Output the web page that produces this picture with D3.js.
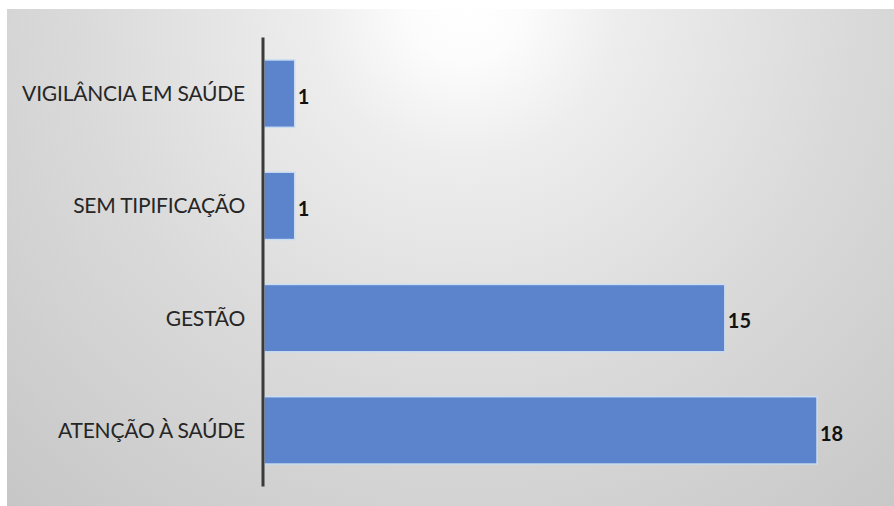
<!DOCTYPE html>
<html>
<head>
<meta charset="utf-8">
<script src="https://cdn.jsdelivr.net/npm/d3@7"></script>
<style>
  html, body { margin: 0; padding: 0; background: #ffffff; }
  svg { display: block; }
</style>
</head>
<body>
<svg id="chart" width="894" height="506"></svg>
<script>
// Complaints by category
const categories = ["VIGILÂNCIA EM SAÚDE", "SEM TIPIFICAÇÃO", "GESTÃO", "ATENÇÃO À SAÚDE"];
const values = [1, 1, 15, 18];

const W = 894, H = 506;
const svg = d3.select("#chart");

// Soft radial backdrop behind the plot
const defs = svg.append("defs");
const grad = defs.append("radialGradient")
  .attr("id", "bg")
  .attr("gradientUnits", "userSpaceOnUse")
  .attr("cx", 465).attr("cy", 5).attr("r", 700);
[[0, "#ffffff"], [0.08, "#fcfcfc"], [0.22, "#ededed"], [0.55, "#dadada"], [1, "#c5c5c5"]]
  .forEach(([o, c]) => grad.append("stop").attr("offset", o).attr("stop-color", c));

svg.append("rect")
  .attr("x", 7).attr("y", 9)
  .attr("width", W - 7).attr("height", H - 9)
  .attr("fill", "url(#bg)");

const x0 = 264;
const x = d3.scaleLinear().domain([0, 18]).range([x0, x0 + 553]);
const y = d3.scaleBand()
  .domain(categories)
  .range([37.5, 486.5])
  .paddingInner(0.4)
  .paddingOuter(0.2);

const data = categories.map((c, i) => ({ c, v: values[i] }));

// Bars
svg.append("g").selectAll("rect")
  .data(data)
  .join("rect")
  .attr("x", x(0))
  .attr("y", d => y(d.c))
  .attr("width", d => x(d.v) - x(0))
  .attr("height", y.bandwidth())
  .attr("fill", "#5b84cc")
  .attr("stroke", "#c9dcf2")
  .attr("stroke-width", 1.5);

// Category axis
const axis = svg.append("g")
  .attr("transform", `translate(${x0 - 1},0)`)
  .call(d3.axisLeft(y).tickSize(0).tickPadding(18));
axis.select(".domain")
  .attr("d", `M0,${y.range()[0]}V${y.range()[1]}`)
  .attr("stroke", "#3a3a3a")
  .attr("stroke-width", 3);
axis.selectAll(".tick text")
  .attr("font-family", "Lato, 'Open Sans', sans-serif")
  .attr("font-size", 21)
  .attr("letter-spacing", "-0.2px")
  .attr("fill", "#262626")
  .attr("dy", "0.36em");

// Value labels
svg.append("g").selectAll("text")
  .data(data)
  .join("text")
  .attr("x", d => x(d.v) + 3)
  .attr("y", d => y(d.c) + y.bandwidth() / 2 + 3)
  .attr("dy", "0.36em")
  .attr("font-family", "Lato, 'Open Sans', sans-serif")
  .attr("font-weight", "bold")
  .attr("font-size", 20)
  .attr("fill", "#111")
  .text(d => d.v);
</script>
</body>
</html>
